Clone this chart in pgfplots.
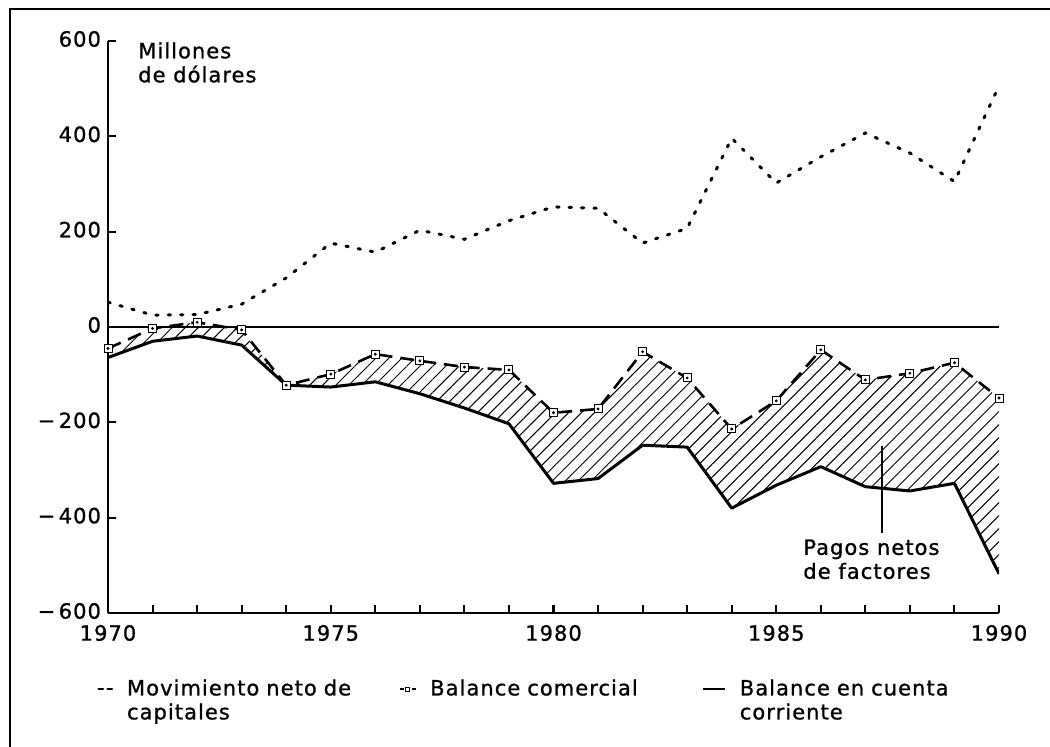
\documentclass[border=0pt]{standalone}
\usepackage{fontspec}
\setmainfont{DejaVu Sans}[LetterSpace=5, FakeBold=1]
\usepackage{pgfplots}
\pgfplotsset{compat=1.18}
\usepackage{pgfplotstable}
\usepgfplotslibrary{fillbetween}
\usetikzlibrary{patterns.meta}

\pgfplotstableread{
year cap trade cur
1970 52 -45 -64
1971 25 -3 -30
1972 26 10 -19
1973 48 -6 -38
1974 103 -122 -122
1975 176 -99 -126
1976 157 -57 -115
1977 203 -71 -140
1978 184 -84 -170
1979 223 -90 -203
1980 252 -180 -328
1981 249 -172 -318
1982 176 -52 -248
1983 207 -107 -252
1984 396 -214 -380
1985 302 -155 -332
1986 357 -48 -293
1987 407 -111 -335
1988 365 -97 -344
1989 305 -75 -328
1990 506 -149 -518
}\data

\newcommand\f{\fontsize{10.5pt}{12pt}\selectfont}

\begin{document}
\begin{tikzpicture}
\draw[line width=1pt] (5pt,0pt) -- (5pt,369pt) -- (525pt,369pt);
\begin{axis}[
  at={(54pt,67pt)}, anchor=south west,
  scale only axis, width=445.5pt, height=286pt,
  xmin=1970, xmax=1990, ymin=-600, ymax=600,
  axis lines=left, axis line style={-, line width=1pt},
  xtick={1970,1975,1980,1985,1990},
  xticklabels={1970,1975,1980,1985,1990},
  minor xtick={1970,...,1990},
  ytick={-600,-400,-200,0,200,400,600},
  yticklabels={−\,600,−\,400,−\,200,0,200,400,600},
  tick align=inside, major tick length=4pt, minor tick length=4pt,
  every tick/.style={black, line width=1pt},
  ticklabel style={font=\f},
  xticklabel style={yshift=-2.5pt},
  yticklabel style={yshift=1pt},
  legend style={at={(-0.0123,-0.112)}, anchor=north west, draw=none, fill=none,
    inner sep=0pt, font=\f, legend columns=3,
    nodes={text width=124pt, align=left, inner xsep=0pt, inner ysep=1pt},
    /tikz/every odd column/.append style={column sep=7pt},
    /tikz/every even column/.append style={column sep=12pt}},
]
\addplot[draw=none, name path=T, forget plot] table[x=year, y=trade]{\data};
\addplot[draw=none, name path=C, forget plot] table[x=year, y=cur]{\data};
\addplot[draw=none, pattern={Lines[angle=45,distance=4.6pt,line width=0.5pt]}, forget plot] fill between[of=T and C];
\addplot[black, line width=0.7pt, forget plot] coordinates {(1970,0) (1990,0)};

\addplot[black, line width=1.5pt, line cap=round, dash pattern=on 1.2pt off 5pt,
  legend image code/.code={\draw[solid, line width=0.8pt] (0pt,0pt)--(2.5pt,0pt) (4.5pt,0pt)--(7pt,0pt);}]
  table[x=year, y=cap]{\data};
\addlegendentry{Movimiento neto de\\capitales}

\addplot[black, line width=1.3pt, dash pattern=on 7pt off 4pt,
  mark=square*, mark size=2pt, mark options={solid, fill=white, line width=0.5pt},
  legend image code/.code={\draw[solid, line width=0.6pt] (0pt,0pt)--(2pt,0pt) (6pt,0pt)--(8pt,0pt); \draw[solid, line width=0.4pt] (3pt,-1pt) rectangle (5pt,1pt);}]
  table[x=year, y=trade]{\data};
\addlegendentry{Balance comercial}
\addplot[only marks, mark=*, mark size=0.5pt, black, forget plot] table[x=year, y=trade]{\data};

\addplot[black, line width=1.5pt, line join=round,
  legend image code/.code={\draw[solid, line width=0.8pt] (0pt,0pt)--(11pt,0pt);}]
  table[x=year, y=cur]{\data};
\addlegendentry{Balance en cuenta\\corriente}

\draw[line width=0.8pt] (axis cs:1987.37,-249) -- (axis cs:1987.37,-432);
\node[anchor=north west, inner sep=0pt, align=left, font=\f] at (axis cs:1985.6,-445) {Pagos netos\\de factores};
\node[anchor=north west, inner sep=0pt, align=left, font=\f] at (axis cs:1970.67,598) {Millones\\de dólares};
\end{axis}
\pgfresetboundingbox
\path[use as bounding box] (0pt,0pt) rectangle (525pt,373.5pt);
\end{tikzpicture}
\end{document}
